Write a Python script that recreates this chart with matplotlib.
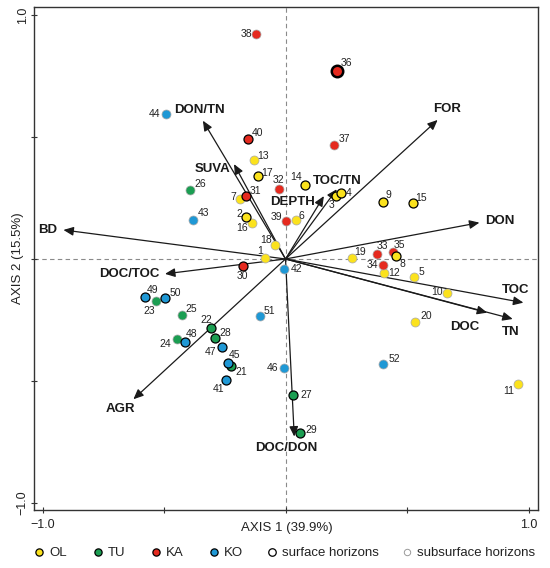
import matplotlib.pyplot as plt
from matplotlib.lines import Line2D

plt.rcParams['font.family'] = ['Liberation Sans', 'DejaVu Sans']

# sample scores on the two ordination axes
sample_ids = list(range(1, 53))
axis1 = [-0.084, -0.161, 0.209, 0.228, 0.529, 0.042, -0.188, 0.456, 0.400, 0.665,
         0.956, 0.407, -0.131, 0.080, 0.526, -0.137, -0.114, -0.042, 0.275, 0.532,
         -0.224, -0.305, -0.532, -0.448, -0.425, -0.394, 0.030, -0.289, 0.060,
         -0.176, -0.164, -0.027, 0.375, 0.402, 0.441, 0.211, 0.201, -0.120, 0.002, -0.156,
         -0.246, -0.006, -0.379, -0.493, -0.237, -0.007, -0.263, -0.414, -0.579, -0.496,
         -0.105, 0.401]
axis2 = [0.005, 0.172, 0.257, 0.270, -0.075, 0.159, 0.246, 0.014, 0.234, -0.141,
         -0.514, -0.059, 0.407, 0.302, 0.231, 0.149, 0.339, 0.059, 0.004, -0.257,
         -0.439, -0.284, -0.172, -0.329, -0.228, 0.283, -0.557, -0.323, -0.713,
         -0.029, 0.259, 0.286, 0.020, -0.026, 0.027, 0.772, 0.466, 0.923, 0.156, 0.492,
         -0.495, -0.040, 0.160, 0.593, -0.427, -0.447, -0.359, -0.340, -0.155, -0.161,
         -0.232, -0.430]
groups = ['OL'] * 20 + ['TU'] * 9 + ['KA'] * 11 + ['KO'] * 12
surface = [2, 3, 4, 8, 9, 14, 15, 17, 21, 22, 27, 28, 29, 30, 31, 36, 40,
           41, 45, 47, 48, 49, 50]
highlight = [36]

# variable vectors
var_names = ['BD', 'DON/TN', 'SUVA', 'DEPTH', 'TOC/TN', 'FOR', 'DON', 'TOC', 'TN',
             'DOC', 'DOC/DON', 'AGR', 'DOC/TOC']
var_x = [-0.914, -0.340, -0.212, 0.158, 0.211, 0.626, 0.798, 0.979, 0.935, 0.830,
         0.036, -0.626, -0.496]
var_y = [0.119, 0.567, 0.389, 0.258, 0.286, 0.570, 0.149, -0.179, -0.246, -0.220,
         -0.728, -0.575, -0.061]

colors = {'OL': '#FBE21D', 'TU': '#1B9E52', 'KA': '#E52A1F', 'KO': '#1F98D5'}

# label offsets in pixels (layout only)
num_off = {1: (-5, 7), 2: (-7, 3), 3: (-5, -9), 4: (8, 0), 5: (7, 5), 6: (6, 4),
           7: (-7, 2), 8: (6, -8), 9: (6, 7), 10: (-10, 1), 11: (-9, -7), 12: (10, 0),
           13: (9, 4), 14: (-9, 8), 15: (8, 5), 16: (-10, -5), 17: (9, 3), 18: (-9, 5),
           19: (8, 6), 20: (11, 6), 21: (10, -6), 22: (-5, 8), 23: (-7, -10),
           24: (-11, -5), 25: (9, 6), 26: (10, 6), 27: (13, 0), 28: (10, 5), 29: (11, 3),
           30: (0, -10), 31: (10, 5), 32: (0, 9), 33: (6, 8), 34: (-11, 0), 35: (7, 7),
           36: (10, 8), 37: (10, 6), 38: (-10, 0), 39: (-10, 4), 40: (10, 6),
           41: (-7, -9), 42: (13, 0), 43: (10, 7), 44: (-11, 0), 45: (7, 8),
           46: (-11, 0), 47: (-11, -5), 48: (7, 8), 49: (8, 7), 50: (10, 5),
           51: (9, 5), 52: (11, 5)}
var_off = {'BD': (-16, 0), 'DON/TN': (-3, 11), 'SUVA': (-21, -5), 'DEPTH': (-31, -6),
           'TOC/TN': (0, 8), 'FOR': (9, 11), 'DON': (20, 2), 'TOC': (-8, 13),
           'TN': (-2, -13), 'DOC': (-22, -14), 'DOC/DON': (-8, -11),
           'AGR': (-13, -10), 'DOC/TOC': (-36, 0)}

fig = plt.figure(figsize=(5.5, 5.68), dpi=100)
ax = fig.add_axes([34 / 550, 58 / 568, 504 / 550, 503 / 568])

ax.axhline(0, color='#8a8a8a', ls=(0, (4, 3)), lw=0.8, zorder=1)
ax.axvline(0, color='#8a8a8a', ls=(0, (4, 3)), lw=0.8, zorder=1)

# arrows
for name, vx, vy in zip(var_names, var_x, var_y):
    ax.annotate('', xy=(vx, vy), xytext=(0, 0),
                arrowprops=dict(arrowstyle='-|>,head_length=0.5,head_width=0.22',
                                color='#1a1a1a', lw=0.9,
                                mutation_scale=12, shrinkA=0, shrinkB=0),
                zorder=2)
    dx, dy = var_off[name]
    ax.annotate(name, xy=(vx, vy), xytext=(dx, dy), textcoords='offset pixels',
                ha='center', va='center', fontsize=9.5, fontweight='bold',
                color='#1a1a1a', zorder=5)

# samples
for sid, x, y, g in zip(sample_ids, axis1, axis2, groups):
    if sid in highlight:
        ax.scatter(x, y, s=68, c=colors[g], edgecolors='black', linewidths=1.8, zorder=4)
    elif sid in surface:
        ax.scatter(x, y, s=42, c=colors[g], edgecolors='black', linewidths=0.9, zorder=4)
    else:
        ax.scatter(x, y, s=42, c=colors[g], edgecolors='#a8a8a8', linewidths=0.5, zorder=3)
    dx, dy = num_off[sid]
    ax.annotate(str(sid), xy=(x, y), xytext=(dx, dy), textcoords='offset pixels',
                ha='center', va='center', fontsize=7.5, color='#222222', zorder=5)

ax.set_xlim(-1.035, 1.039)
ax.set_ylim(-1.029, 1.033)
ax.set_xticks([-1, -0.5, 0, 0.5, 1])
ax.set_xticklabels(['\u22121.0', '', '', '', '1.0'])
ax.set_yticks([-1, -0.5, 0, 0.5, 1])
ax.set_yticklabels(['\u22121.0', '', '', '', '1.0'], rotation=90, va='center')
ax.tick_params(direction='inout', length=4.5, width=0.8, labelsize=9,
               color='#333333', labelcolor='#222222')
ax.tick_params(axis='x', pad=4.5)
ax.tick_params(axis='y', pad=1.5)
for sp in ax.spines.values():
    sp.set_color('#333333')
    sp.set_linewidth(1.0)

ax.text(0.501, -0.036, 'AXIS 1 (39.9%)', transform=ax.transAxes, ha='center',
        va='center', fontsize=9.5, color='#222222')
ax.text(-0.032, 0.5, 'AXIS 2 (15.5%)', transform=ax.transAxes, ha='center',
        va='center', rotation=90, fontsize=9.5, color='#222222')

# legend row along the bottom
leg = fig.add_axes([0, 0, 1, 1])
leg.set_xlim(0, 550)
leg.set_ylim(568, 0)
leg.axis('off')
leg_labels = ['OL', 'TU', 'KA', 'KO', 'surface horizons', 'subsurface horizons']
leg_x = [39, 98, 156, 214, 272, 407]
for lab, lx in zip(leg_labels, leg_x):
    if lab in colors:
        leg.plot(lx, 552, 'o', ms=5.2, mfc=colors[lab], mec='black', mew=0.9)
    elif lab == 'surface horizons':
        leg.plot(lx, 552, 'o', ms=5.4, mfc='white', mec='black', mew=0.9)
    else:
        leg.plot(lx, 552, 'o', ms=4.6, mfc='white', mec='#9a9a9a', mew=0.7)
    leg.text(lx + 10, 552.5, lab, ha='left', va='center', fontsize=9.5, color='#222222')

fig.savefig('out.png', dpi=100)
